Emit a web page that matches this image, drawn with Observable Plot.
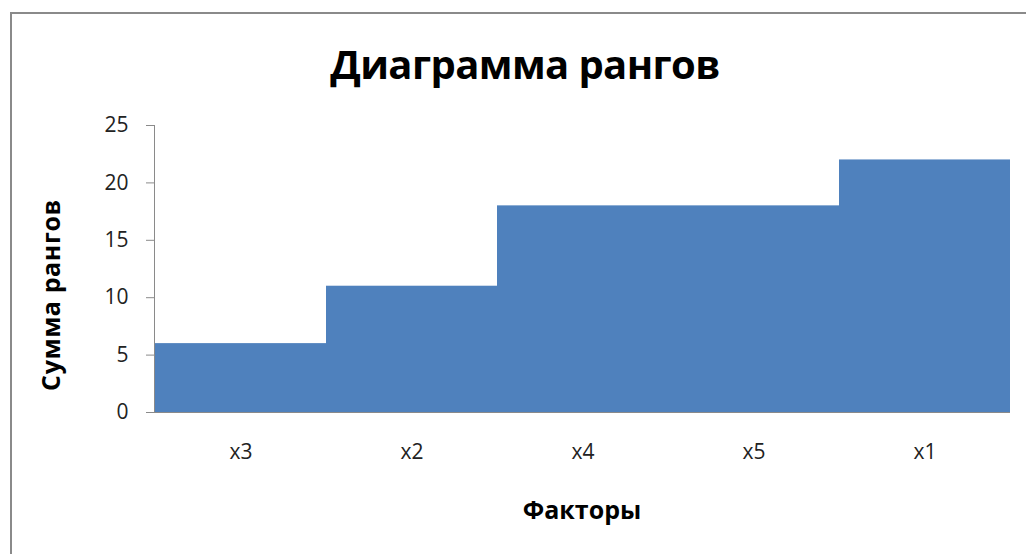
<!DOCTYPE html>
<html>
<head>
<meta charset="utf-8">
<script src="https://cdn.jsdelivr.net/npm/d3@7"></script>
<script src="https://cdn.jsdelivr.net/npm/@observablehq/plot@0.6"></script>
<style>
  html, body { margin: 0; padding: 0; background: #fff; overflow: hidden; width: 1026px; height: 554px; }
  #wrap { position: relative; width: 1026px; height: 554px; font-family: "Open Sans", sans-serif; }
  #border { position: absolute; left: 10px; top: 12px; width: 1100px; height: 700px; border-left: 2px solid #8a8a8a; border-top: 2px solid #8a8a8a; box-sizing: border-box; }
  #title { position: absolute; left: 0; width: 1050px; top: 44px; text-align: center; font-weight: 700; font-size: 40px; line-height: 1; color: #000; letter-spacing: -0.6px; }
  #xlabel { position: absolute; left: 154px; width: 856px; top: 497px; text-align: center; font-weight: 700; font-size: 25px; line-height: 1; color: #000; }
  #ylabel { position: absolute; left: 50px; top: 295px; transform: translate(-50%, -50%) rotate(-90deg); white-space: nowrap; font-weight: 700; font-size: 25px; line-height: 1; color: #000; letter-spacing: 0.6px; }
  #chart { position: absolute; left: 0; top: 0; }
</style>
</head>
<body>
<div id="wrap">
  <div id="border"></div>
  <div id="chart"></div>
  <div id="title">Диаграмма рангов</div>
  <div id="ylabel">Сумма рангов</div>
  <div id="xlabel">Факторы</div>
</div>
<script>
const factors = ["x3", "x2", "x4", "x5", "x1"];
const rankSums = [6, 11, 18, 18, 22];
const yTicks = [0, 5, 10, 15, 20, 25];

const data = factors.map((f, i) => ({factor: f, value: rankSums[i]}));

const chart = Plot.plot({
  width: 1026,
  height: 554,
  marginLeft: 154,
  marginRight: 16,
  marginTop: 125,
  marginBottom: 142,
  style: {fontFamily: "Open Sans, sans-serif", fontSize: "21px", color: "#222", background: "transparent"},
  x: {type: "band", domain: factors, padding: 0, label: null},
  y: {domain: [0, 25], label: null},
  marks: [
    Plot.barY(data, {x: "factor", y: "value", fill: "#4F81BD", inset: 0}),
    Plot.axisX({tickSize: 0, tickPadding: 32, label: null, fill: "#222", fontSize: 21}),
    Plot.axisY({ticks: yTicks, tickSize: 8, tickPadding: 18, stroke: "#8a8a8a", strokeOpacity: 1, label: null, fill: "#222", fontSize: 21, tickFormat: d => String(d)}),
    Plot.frame({anchor: "left", stroke: "#8a8a8a", strokeOpacity: 1}),
    Plot.ruleY([0], {stroke: "#8a8a8a", strokeOpacity: 1})
  ]
});
document.getElementById("chart").appendChild(chart);
</script>
</body>
</html>
